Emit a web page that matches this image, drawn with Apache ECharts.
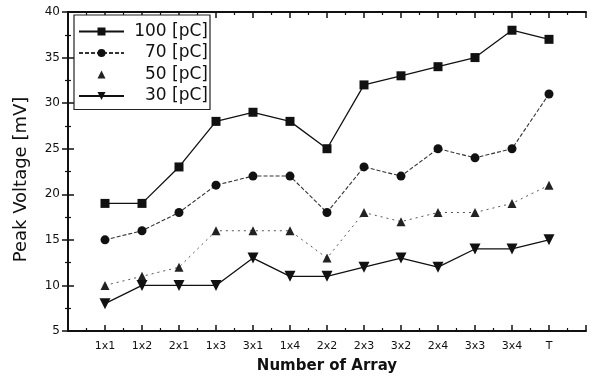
<!DOCTYPE html>
<html><head><meta charset="utf-8">
<script src="https://cdn.jsdelivr.net/npm/echarts@6/dist/echarts.min.js"></script>
<style>html,body{margin:0;padding:0;background:#fff}#c{width:592px;height:380px}</style>
</head><body><div id="c"></div>
<script>
const categories = ['1x1','1x2','2x1','1x3','3x1','1x4','2x2','2x3','3x2','2x4','3x3','3x4','T'];
const s100 = [19,19,23,28,29,28,25,32,33,34,35,38,37];
const s70  = [15,16,18,21,22,22,18,23,22,25,24,25,31];
const s50  = [10,11,12,16,16,16,13,18,17,18,18,19,21];
const s30  = [8,10,10,10,13,11,11,12,13,12,14,14,15];
const seriesNames = ['100 [pC]','70 [pC]','50 [pC]','30 [pC]'];
const yTicks = [5,10,15,20,25,30,35,40];

const FONT = 'DejaVu Sans';
const pts = arr => arr.map((v,i)=>[i+1,v]);
const axisCommon = {
  axisLine:{show:true,lineStyle:{color:'#111',width:2}},
  axisTick:{show:true,inside:true,length:6,lineStyle:{color:'#111',width:1.5}},
  minorTick:{show:true,splitNumber:2,length:3,lineStyle:{color:'#111',width:1.2}},
  splitLine:{show:false}
};
const chart = echarts.init(document.getElementById('c'));
chart.setOption({
  animation:false,
  backgroundColor:'#fff',
  grid:{left:68,right:6,top:12,bottom:49},
  legend:{
    left:74, top:15, orient:'vertical',
    backgroundColor:'#fff', borderColor:'#222', borderWidth:1.2,
    padding:[8,2,5,4], itemGap:4.5, itemWidth:45, itemHeight:10,
    data:[
      {name:seriesNames[0]},
      {name:seriesNames[1]},
      {name:seriesNames[2],lineStyle:{opacity:0}},
      {name:seriesNames[3]}
    ],
    formatter: n => '{a|'+n+'}',
    textStyle:{fontFamily:FONT,fontSize:17,color:'#111',lineHeight:16,
      rich:{a:{width:79,align:'right',lineHeight:16,fontFamily:FONT,fontSize:17,color:'#111'}}}
  },
  xAxis:[
    Object.assign({type:'value',min:0,max:14,interval:1,position:'bottom',
      name:'Number of Array',nameLocation:'middle',nameGap:28,
      nameTextStyle:{fontFamily:FONT,fontSize:15,fontWeight:'bold',color:'#111'},
      axisLabel:{margin:10,fontFamily:FONT,fontSize:11,color:'#111',
        formatter:v=>categories[v-1]||''}},axisCommon),
    Object.assign({type:'value',min:0,max:14,interval:1,position:'top',
      axisLabel:{show:false}},axisCommon)
  ],
  yAxis:[
    Object.assign({type:'value',min:5,max:40,interval:5,position:'left',
      name:'Peak Voltage [mV]',nameLocation:'middle',nameGap:38,
      nameTextStyle:{fontFamily:FONT,fontSize:18,color:'#111',padding:[0,16,0,0]},
      axisLabel:{margin:8,fontFamily:FONT,fontSize:12,color:'#111',
        formatter:v=>yTicks.includes(v)?String(v):''}},axisCommon),
    Object.assign({type:'value',min:5,max:40,interval:5,position:'right',
      axisLabel:{show:false}},axisCommon)
  ],
  series:[
    {name:seriesNames[0],type:'line',data:pts(s100),symbol:'rect',symbolSize:9,
      itemStyle:{color:'#111'},lineStyle:{color:'#111',width:1.3}},
    {name:seriesNames[1],type:'line',data:pts(s70),symbol:'circle',symbolSize:9,
      itemStyle:{color:'#111'},lineStyle:{color:'#333',width:1.1,type:[4,2]}},
    {name:seriesNames[2],type:'line',data:pts(s50),symbol:'triangle',symbolSize:9,
      itemStyle:{color:'#222'},lineStyle:{color:'#555',width:1,type:[2,4]}},
    {name:seriesNames[3],type:'line',data:pts(s30),symbol:'triangle',symbolRotate:180,symbolSize:11,
      itemStyle:{color:'#111'},lineStyle:{color:'#111',width:1.3}}
  ]
});
</script></body></html>
